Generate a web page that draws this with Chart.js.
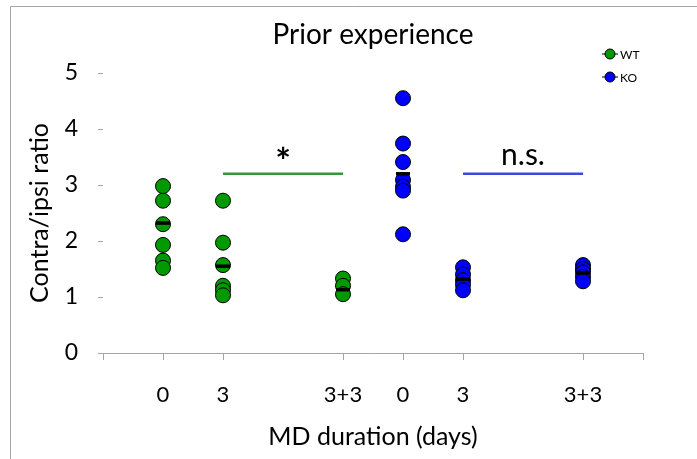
<!DOCTYPE html>
<html>
<head>
<meta charset="utf-8">
<script src="https://cdn.jsdelivr.net/npm/chart.js@4/dist/chart.umd.min.js"></script>
<style>
  html, body { margin: 0; padding: 0; background: #fff; }
  #wrap { width: 697px; height: 459px; }
</style>
</head>
<body>
<div id="wrap"><canvas id="chart" width="697" height="459"></canvas></div>
<script>
// x positions of the six groups and their tick labels
const groupX = [1, 2, 4, 5, 6, 8];
const groupLabels = ['0', '3', '3+3', '0', '3', '3+3'];
const tickX = [0, 1, 2, 4, 5, 6, 8, 9];

// contra/ipsi ratios per animal
const wt0 = [2.98, 2.72, 2.30, 1.93, 1.65, 1.52];
const wt3 = [2.72, 1.97, 1.57, 1.20, 1.12, 1.03];
const wt33 = [1.33, 1.20, 1.05];
const ko0 = [4.55, 3.74, 3.41, 3.09, 2.97, 2.90, 2.12];
const ko3 = [1.53, 1.40, 1.30, 1.22, 1.12];
const ko33 = [1.57, 1.50, 1.44, 1.36, 1.28];

// group means
const wtMeans = [2.32, 1.55, 1.13];
const koMeans = [3.20, 1.32, 1.43];

// significance bars: [x start, x end, y] and labels (baseline y)
const sigBars = [[2, 4, 3.2], [6, 8, 3.2]];
const sigLabels = ['*', 'n.s.'];
const sigLabelY = [3.2, 3.36];
const sigFonts = ['bold 37px ', '30px '];

const green = '#009a00';
const blue = '#0000ff';

function toPoints(x, values) {
  return values.map(v => ({ x: x, y: v }));
}

const wtPoints = [].concat(toPoints(groupX[0], wt0), toPoints(groupX[1], wt3), toPoints(groupX[2], wt33));
const koPoints = [].concat(toPoints(groupX[3], ko0), toPoints(groupX[4], ko3), toPoints(groupX[5], ko33));
const meanPoints = wtMeans.map((m, i) => ({ x: groupX[i], y: m }))
  .concat(koMeans.map((m, i) => ({ x: groupX[i + 3], y: m })));

const font = 'Lato, "Open Sans", sans-serif';

const decorations = {
  id: 'decorations',
  beforeDraw(chart) {
    const ctx = chart.ctx;
    ctx.save();
    ctx.strokeStyle = '#a6a6a6';
    ctx.lineWidth = 1;
    ctx.beginPath();
    ctx.moveTo(10.5, chart.height);
    ctx.lineTo(10.5, 6.5);
    ctx.lineTo(chart.width, 6.5);
    ctx.stroke();
    ctx.restore();
  },
  afterDraw(chart) {
    const ctx = chart.ctx;
    const xs = chart.scales.x, ys = chart.scales.y;
    ctx.save();
    // title
    ctx.fillStyle = '#000';
    ctx.textAlign = 'center';
    ctx.textBaseline = 'middle';
    ctx.font = '28px ' + font;
    ctx.fillText('Prior experience', (chart.chartArea.left + chart.chartArea.right) / 2, 35);

    // significance labels
    ctx.textBaseline = 'alphabetic';
    sigBars.forEach((b, i) => {
      const cx = xs.getPixelForValue((b[0] + b[1]) / 2);
      const cy = ys.getPixelForValue(sigLabelY[i]);
      ctx.font = sigFonts[i] + font;
      ctx.fillText(sigLabels[i], cx, cy);
    });

    // legend
    ctx.textBaseline = 'middle';
    const items = [['WT', green], ['KO', blue]];
    items.forEach((it, i) => {
      const y = 54 + i * 23;
      ctx.strokeStyle = '#000';
      ctx.lineWidth = 1;
      ctx.beginPath();
      ctx.moveTo(602, y);
      ctx.lineTo(618, y);
      ctx.stroke();
      ctx.beginPath();
      ctx.arc(610, y, 5, 0, Math.PI * 2);
      ctx.fillStyle = it[1];
      ctx.fill();
      ctx.stroke();
      ctx.fillStyle = '#000';
      ctx.textAlign = 'left';
      ctx.font = '12px ' + font;
      ctx.fillText(it[0], 620, y + 1);
    });
    ctx.restore();
  }
};

new Chart(document.getElementById('chart'), {
  type: 'scatter',
  data: {
    datasets: [
      {
        label: 'mean',
        data: meanPoints,
        pointStyle: 'line',
        pointRadius: 7,
        borderColor: '#000',
        borderWidth: 3.5,
        order: 0
      },
      {
        label: 'WT',
        data: wtPoints,
        pointRadius: 7.5,
        backgroundColor: green,
        borderColor: '#000',
        borderWidth: 1,
        order: 1
      },
      {
        label: 'KO',
        data: koPoints,
        pointRadius: 7.5,
        backgroundColor: blue,
        borderColor: '#000',
        borderWidth: 1,
        order: 1
      },
      {
        label: 'WT sig',
        data: [{ x: sigBars[0][0], y: sigBars[0][2] }, { x: sigBars[0][1], y: sigBars[0][2] }],
        showLine: true,
        pointRadius: 0,
        borderColor: '#2e9a3a',
        borderWidth: 2.5,
        order: 2
      },
      {
        label: 'KO sig',
        data: [{ x: sigBars[1][0], y: sigBars[1][2] }, { x: sigBars[1][1], y: sigBars[1][2] }],
        showLine: true,
        pointRadius: 0,
        borderColor: '#3a4ad9',
        borderWidth: 2.5,
        order: 2
      }
    ]
  },
  options: {
    responsive: false,
    animation: false,
    layout: { padding: { top: 73, right: 54, left: 0, bottom: 0 } },
    plugins: {
      legend: { display: false },
      tooltip: { enabled: false },
      title: { display: false }
    },
    scales: {
      x: {
        type: 'linear',
        min: 0,
        max: 9,
        afterBuildTicks(scale) {
          scale.ticks = tickX.map(v => ({ value: v }));
        },
        afterFit(scale) {
          scale.height = 106;
        },
        ticks: {
          autoSkip: false,
          maxRotation: 0,
          padding: 22,
          color: '#000',
          font: { family: font, size: 22 },
          callback(value) {
            const i = groupX.indexOf(value);
            return i >= 0 ? groupLabels[i] : '';
          }
        },
        grid: {
          display: true,
          drawOnChartArea: false,
          drawTicks: true,
          tickLength: 7,
          tickColor: '#a6a6a6'
        },
        border: { display: true, color: '#a6a6a6', width: 1 },
        title: {
          display: true,
          text: 'MD duration (days)',
          color: '#000',
          font: { family: font, size: 25 },
          padding: { top: 0, bottom: 7 }
        }
      },
      y: {
        min: 0,
        max: 5,
        afterFit(scale) {
          scale.width = 103;
        },
        ticks: {
          stepSize: 1,
          padding: 20,
          color: '#000',
          font: { family: font, size: 23 }
        },
        grid: {
          display: true,
          drawOnChartArea: false,
          drawTicks: true,
          tickLength: 5,
          tickColor: '#a6a6a6'
        },
        border: { display: false },
        title: {
          display: true,
          text: 'Contra/ipsi ratio',
          color: '#000',
          font: { family: font, size: 25 },
          padding: { top: 25, bottom: 0 }
        }
      }
    }
  },
  plugins: [decorations]
});
</script>
</body>
</html>
